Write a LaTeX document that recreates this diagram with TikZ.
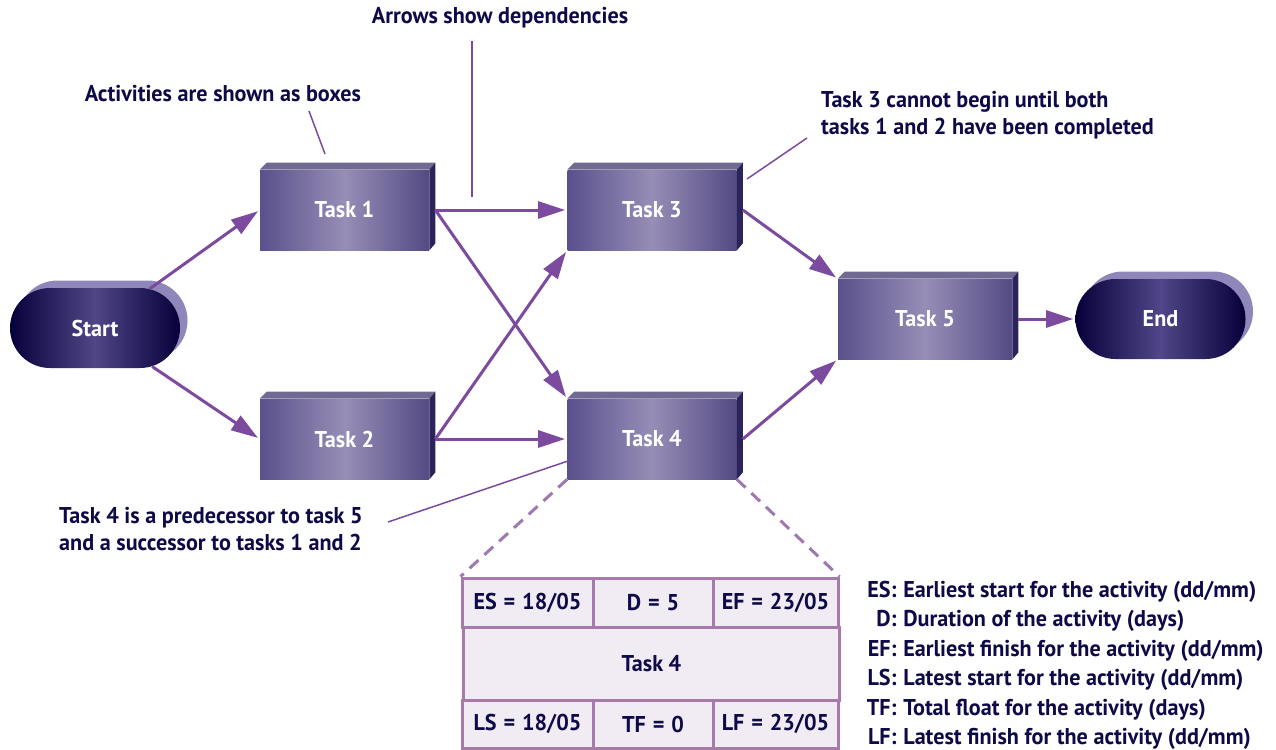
\documentclass[tikz,border=0pt]{standalone}
\usepackage{fontspec}
\setmainfont{PT Sans}[FakeStretch=0.97]
\usepackage{tikz}
\usetikzlibrary{arrows.meta,shapes.misc,shadows}

\definecolor{textnavy}{RGB}{14,10,72}
\definecolor{arrowpurple}{RGB}{124,74,158}
\definecolor{dashpurple}{RGB}{160,120,176}
\definecolor{pilldark}{RGB}{6,0,58}
\definecolor{pillmid}{RGB}{80,70,136}
\definecolor{pillback}{RGB}{143,134,186}
\definecolor{boxleft}{RGB}{90,80,140}
\definecolor{boxmid}{RGB}{150,142,182}
\definecolor{boxright}{RGB}{84,74,132}
\definecolor{boxtop}{RGB}{112,106,146}
\definecolor{boxside}{RGB}{42,36,90}
\definecolor{tablefill}{RGB}{241,235,243}
\definecolor{tableline}{RGB}{166,122,170}

\newcommand{\eqsp}{\hspace{0.3em}=\hspace{0.3em}}

\begin{document}
\begin{tikzpicture}[>={Triangle[length=0.54cm,width=0.34cm]}]
    \tikzstyle{every node}=[font=\fontsize{13}{15.6}\selectfont\bfseries, text=textnavy]
    \tikzstyle{pill}=[rounded rectangle, minimum width=3.4cm, minimum height=1.6cm, inner sep=0pt,
        left color=pilldark, right color=pilldark, middle color=pillmid, text=white,
        general shadow={fill=pillback, shadow xshift=0.15cm, shadow yshift=0.15cm}]
    \tikzstyle{task}=[rectangle, minimum width=3.38cm, minimum height=1.6cm, inner sep=0pt,
        left color=boxleft, right color=boxright, middle color=boxmid, text=white]
    \tikzstyle{box top}=[fill=boxtop]
    \tikzstyle{box side}=[fill=boxside]
    \tikzstyle{dep}=[->, draw=arrowpurple, line width=0.06cm, shorten >=0.04cm]
    \tikzstyle{note}=[draw=arrowpurple, line width=0.03cm]
    \tikzstyle{detail link}=[draw=dashpurple, line width=0.06cm, dash pattern=on 0.24cm off 0.16cm]
    \tikzstyle{cell}=[draw=tableline, fill=tablefill, line width=0.06cm, inner sep=0pt]
    \tikzstyle{legend text}=[inner sep=0pt]

    \useasboundingbox (0,0) rectangle (25.52,-14.98);

    % Start and end
    \node[pill] (start) at (1.9,-6.56) {Start};
    \node[pill] (end) at (23.21,-6.38) {End};

    % Activities
    \node[task] (task1) at (6.89,-4.2) {Task 1};
    \node[task] (task2) at (6.89,-8.78) {Task 2};
    \node[task] (task3) at (13.04,-4.2) {Task 3};
    \node[task] (task4) at (13.04,-8.78) {Task 4};
    \node[task, minimum width=3.48cm] (task5) at (18.5,-6.38) {Task 5};
    \foreach \t in {task1,task2,task3,task4,task5} {
        \fill[box top] (\t.north west) -- ++(0.14,0.14) -- ([shift={(0.12,0.14)}]\t.north east) -- (\t.north east) -- cycle;
        \fill[box side] (\t.north east) -- ++(0.12,0.14) -- ([shift={(0.12,0.14)}]\t.south east) -- (\t.south east) -- cycle;
    }

    % Dependencies
    \draw[dep] (start) -- (task1.west);
    \draw[dep] (start) -- (task2.west);
    \draw[dep] ([xshift=0.12cm]task1.east) -- (task3.west);
    \draw[dep] ([xshift=0.12cm]task1.east) -- (task4.north west);
    \draw[dep] ([xshift=0.12cm]task2.east) -- (task3.south west);
    \draw[dep] ([xshift=0.12cm]task2.east) -- (task4.west);
    \draw[dep] ([xshift=0.12cm]task3.east) -- (task5.north west);
    \draw[dep] ([xshift=0.12cm]task4.east) -- (task5.south west);
    \draw[dep] ([xshift=0.12cm]task5.east) -- (end);

    % Annotations
    \node (note-boxes) at (4.46,-1.88) {Activities are shown as boxes};
    \node (note-arrows) at (10.0,-0.36) {Arrows show dependencies};
    \node[anchor=west, align=left] (note-task3) at (16.3,-2.3) {Task 3 cannot begin until both\\tasks 1 and 2 have been completed};
    \node[anchor=west, align=left] (note-task4) at (1.06,-10.58) {Task 4 is a predecessor to task 5\\and a successor to tasks 1 and 2};
    \coordinate (boxes-a) at (6.18,-2.22);
    \coordinate (boxes-b) at (6.5,-3.08);
    \coordinate (arrows-a) at (9.44,-0.82);
    \coordinate (arrows-b) at (9.44,-3.94);
    \coordinate (task3-a) at (16.14,-2.76);
    \coordinate (task3-b) at (14.94,-3.58);
    \coordinate (task4-a) at (7.76,-10.44);
    \coordinate (task4-b) at (11.36,-9.22);
    \draw[note] (boxes-a) -- (boxes-b);
    \draw[note] (arrows-a) -- (arrows-b);
    \draw[note] (task3-a) -- (task3-b);
    \draw[note] (task4-a) -- (task4-b);

    % Detail of task 4
    \node[cell, minimum width=2.62cm, minimum height=0.98cm] (es) at (10.55,-12.05) {ES\eqsp18/05};
    \node[cell, minimum width=2.4cm, minimum height=0.98cm] (d) at (13.06,-12.05) {D\eqsp5};
    \node[cell, minimum width=2.5cm, minimum height=0.98cm] (ef) at (15.51,-12.05) {EF\eqsp23/05};
    \node[cell, minimum width=7.52cm, minimum height=1.46cm] (task4-detail) at (13.03,-13.27) {Task 4};
    \node[cell, minimum width=2.62cm, minimum height=0.96cm] (ls) at (10.55,-14.48) {LS\eqsp18/05};
    \node[cell, minimum width=2.4cm, minimum height=0.96cm] (tf) at (13.06,-14.48) {TF\eqsp0};
    \node[cell, minimum width=2.5cm, minimum height=0.96cm] (lf) at (15.51,-14.48) {LF\eqsp23/05};
    \draw[detail link] (task4.south west) -- (es.north west);
    \draw[detail link] (task4.south east) -- (ef.north east);

    % Legend
    \foreach \abbr/\desc [count=\i] in {ES/{Earliest start for the activity (dd/mm)},
        D/{Duration of the activity (days)},
        EF/{Earliest finish for the activity (dd/mm)},
        LS/{Latest start for the activity (dd/mm)},
        TF/{Total float for the activity (days)},
        LF/{Latest finish for the activity (dd/mm)}} {
        \node[legend text, anchor=base east] (abbr-\i) at (17.94,{-11.94-0.59*(\i-1)}) {\abbr:};
        \node[legend text, anchor=base west] (desc-\i) at (18.06,{-11.94-0.59*(\i-1)}) {\desc};
    }
\end{tikzpicture}
\end{document}
